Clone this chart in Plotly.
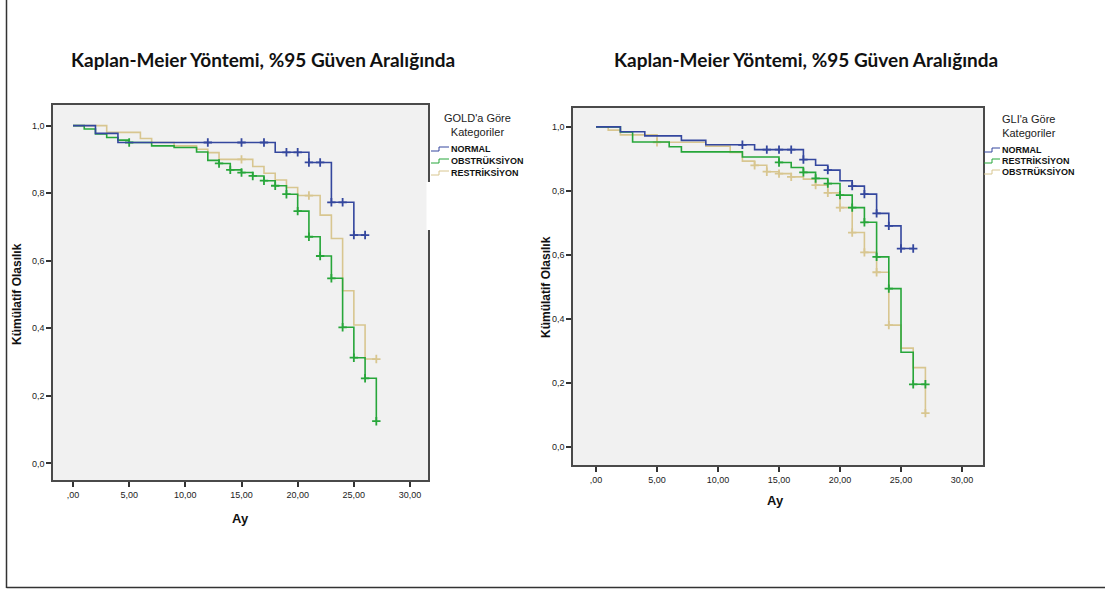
import plotly.graph_objects as go

W, H = 1105, 589

# ---------------- DATA ----------------
xtick_vals = [0, 5, 10, 15, 20, 25, 30]
xtick_text = [",00", "5,00", "10,00", "15,00", "20,00", "25,00", "30,00"]
ytick_vals = [0.0, 0.2, 0.4, 0.6, 0.8, 1.0]
ytick_text = ["0,0", "0,2", "0,4", "0,6", "0,8", "1,0"]

title_text = "Kaplan-Meier Yöntemi, %95 Güven Aralığında"
x_title = "Ay"
y_title = "Kümülatif Olasılık"

# Left panel: GOLD categories
gold_normal_t = [0, 2, 4, 18, 21, 23, 25, 26]
gold_normal_s = [1.0, 0.977, 0.95, 0.921, 0.891, 0.773, 0.676, 0.676]
gold_normal_c = [12, 15, 17, 19, 20, 21, 22, 23, 24, 25, 26]

gold_obstr_t = [0, 1, 2, 3, 4, 5, 7, 9, 11, 12, 13, 14, 15, 16, 17, 18, 19, 20, 21, 22, 23, 24, 25, 26, 27]
gold_obstr_s = [1.0, 0.99, 0.975, 0.965, 0.957, 0.95, 0.94, 0.935, 0.922, 0.897, 0.888, 0.869, 0.861, 0.851,
                0.837, 0.822, 0.797, 0.747, 0.671, 0.614, 0.548, 0.403, 0.313, 0.252, 0.125]
gold_obstr_c = [5, 13, 14, 15, 16, 17, 18, 19, 20, 21, 22, 23, 24, 25, 26, 27]

gold_restr_t = [0, 3, 6, 7, 9, 11, 12, 13, 16, 17, 18, 19, 20, 22, 23, 24, 25, 26, 27]
gold_restr_s = [1.0, 0.98, 0.962, 0.95, 0.94, 0.93, 0.92, 0.90, 0.879, 0.859, 0.839, 0.817, 0.793,
                0.735, 0.666, 0.511, 0.41, 0.309, 0.309]
gold_restr_c = [15, 21, 27]

# Right panel: GLI categories
gli_normal_t = [0, 2, 4, 7, 9, 13, 17, 18, 19, 20, 21, 22, 23, 24, 25, 26]
gli_normal_s = [1.0, 0.985, 0.972, 0.958, 0.944, 0.929, 0.898, 0.88, 0.865, 0.832, 0.815, 0.79,
                0.73, 0.691, 0.62, 0.62]
gli_normal_c = [12, 14, 15, 16, 17, 19, 21, 22, 23, 24, 25, 26]

gli_restr_t = [0, 2, 3, 6, 7, 12, 15, 16, 17, 18, 19, 20, 21, 22, 23, 24, 25, 26, 27]
gli_restr_s = [1.0, 0.984, 0.953, 0.938, 0.922, 0.906, 0.889, 0.873, 0.858, 0.839, 0.823, 0.787,
               0.748, 0.702, 0.594, 0.495, 0.296, 0.196, 0.196]
gli_restr_c = [15, 17, 18, 19, 20, 21, 22, 23, 24, 26, 27]

gli_obstr_t = [0, 1, 2, 5, 9, 11, 12, 13, 14, 15, 16, 17, 18, 19, 20, 21, 22, 23, 24, 25, 26, 27]
gli_obstr_s = [1.0, 0.99, 0.975, 0.952, 0.94, 0.92, 0.893, 0.88, 0.86, 0.854, 0.844, 0.837, 0.818,
               0.794, 0.748, 0.67, 0.608, 0.546, 0.381, 0.309, 0.248, 0.106]
gli_obstr_c = [5, 13, 14, 15, 16, 18, 19, 20, 21, 22, 23, 24, 27]

gold_legend_title = "GOLD'a Göre<br>Kategoriler"
gold_legend_names = ["NORMAL", "OBSTRÜKSİYON", "RESTRİKSİYON"]
gli_legend_title = "GLI'a Göre<br>Kategoriler"
gli_legend_names = ["NORMAL", "RESTRİKSİYON", "OBSTRÜKSİYON"]

# ---------------- STYLE ----------------
BLUE = "#34479e"
GREEN = "#27a63a"
BEIGE = "#d8c690"
TICKFONT = dict(family="Liberation Sans Narrow, Liberation Sans, Arial", size=9, color="#222")


def px(x):
    return x / W


def py(y):
    return 1 - y / H


def step_at(ts, ss, t):
    v = ss[0]
    for ti, si in zip(ts, ss):
        if ti <= t:
            v = si
    return v


fig = go.Figure()


def add_series(ts, ss, cs, color, xa, ya, name):
    fig.add_trace(go.Scatter(x=ts, y=ss, mode="lines", line=dict(color=color, width=1.6, shape="hv"),
                             xaxis=xa, yaxis=ya, name=name, showlegend=False, hoverinfo="skip"))
    fig.add_trace(go.Scatter(x=cs, y=[step_at(ts, ss, c) for c in cs], mode="markers",
                             marker=dict(symbol="cross-thin", size=6, line=dict(color=color, width=1.8)),
                             xaxis=xa, yaxis=ya, name=name + " sansürlü", showlegend=False, hoverinfo="skip"))


# left panel: beige first, then green, then blue on top
add_series(gold_restr_t, gold_restr_s, gold_restr_c, BEIGE, "x", "y", "RESTRİKSİYON")
add_series(gold_obstr_t, gold_obstr_s, gold_obstr_c, GREEN, "x", "y", "OBSTRÜKSİYON")
add_series(gold_normal_t, gold_normal_s, gold_normal_c, BLUE, "x", "y", "NORMAL")

add_series(gli_obstr_t, gli_obstr_s, gli_obstr_c, BEIGE, "x2", "y2", "OBSTRÜKSİYON")
add_series(gli_restr_t, gli_restr_s, gli_restr_c, GREEN, "x2", "y2", "RESTRİKSİYON")
add_series(gli_normal_t, gli_normal_s, gli_normal_c, BLUE, "x2", "y2", "NORMAL")

axis_common = dict(showgrid=False, zeroline=False, showline=True, mirror=True, linecolor="#4a4a4a",
                   linewidth=1.5, ticks="outside", ticklen=5, tickwidth=1.5, tickcolor="#333",
                   tickfont=TICKFONT)

# Panel geometry (pixels)
L_left, L_right, L_top, L_bot = 53, 428, 105, 480
R_left, R_right, R_top, R_bot = 573, 983, 108, 465

fig.update_layout(
    width=W, height=H, autosize=False,
    margin=dict(l=0, r=0, t=0, b=0),
    paper_bgcolor="white", plot_bgcolor="#f1f1f1",
    showlegend=False,
    xaxis=dict(domain=[px(L_left), px(L_right)], range=[-1.78, 31.6], tickvals=xtick_vals,
               ticktext=xtick_text, anchor="y", **axis_common),
    yaxis=dict(domain=[py(L_bot), py(L_top)], range=[-0.049, 1.061], tickvals=ytick_vals,
               ticktext=ytick_text, anchor="x", **axis_common),
    xaxis2=dict(domain=[px(R_left), px(R_right)], range=[-1.885, 31.72], tickvals=xtick_vals,
                ticktext=xtick_text, anchor="y2", **axis_common),
    yaxis2=dict(domain=[py(R_bot), py(R_top)], range=[-0.056, 1.059], tickvals=ytick_vals,
                ticktext=ytick_text, anchor="x2", **axis_common),
)

ann = []
TITLEFONT = dict(family="Lato, Open Sans, sans-serif", size=19, color="#111")
ann.append(dict(x=px(263), y=py(60), xref="paper", yref="paper", text="<b>" + title_text + "</b>",
                showarrow=False, font=TITLEFONT, xanchor="center", yanchor="middle"))
ann.append(dict(x=px(806), y=py(60), xref="paper", yref="paper", text="<b>" + title_text + "</b>",
                showarrow=False, font=TITLEFONT, xanchor="center", yanchor="middle"))

AXT = dict(family="Liberation Sans Narrow, Liberation Sans, Arial", size=12, color="#111")
ann.append(dict(x=px(17), y=py(294), xref="paper", yref="paper", text="<b>" + y_title + "</b>",
                showarrow=False, font=AXT, textangle=-90, xanchor="center", yanchor="middle"))
ann.append(dict(x=px(546), y=py(287), xref="paper", yref="paper", text="<b>" + y_title + "</b>",
                showarrow=False, font=AXT, textangle=-90, xanchor="center", yanchor="middle"))
ann.append(dict(x=px(240), y=py(518), xref="paper", yref="paper", text="<b>" + x_title + "</b>",
                showarrow=False, font=dict(AXT, size=13), xanchor="center", yanchor="middle"))
ann.append(dict(x=px(776), y=py(500), xref="paper", yref="paper", text="<b>" + x_title + "</b>",
                showarrow=False, font=dict(AXT, size=13), xanchor="center", yanchor="middle"))

LEGT = dict(family="Liberation Sans, Arial", size=11, color="#222")
LEGI = dict(family="Liberation Sans Narrow, Liberation Sans, Arial", size=9, color="#111")

shapes = []


def legend(title, names, colors, title_cx, title_y, sym_x, text_x, ys):
    ann.append(dict(x=px(title_cx), y=py(title_y), xref="paper", yref="paper", text=title,
                    showarrow=False, font=LEGT, xanchor="center", yanchor="middle", align="center"))
    for nm, col, yy in zip(names, colors, ys):
        ann.append(dict(x=px(text_x), y=py(yy), xref="paper", yref="paper", text="<b>" + nm + "</b>",
                        showarrow=False, font=LEGI, xanchor="left", yanchor="middle"))
        x0 = sym_x
        path = "M {} {} L {} {} L {} {} L {} {}".format(
            px(x0), py(yy + 2), px(x0 + 8), py(yy + 2), px(x0 + 8), py(yy - 2), px(text_x), py(yy - 2))
        shapes.append(dict(type="path", path=path, xref="paper", yref="paper",
                           line=dict(color=col, width=1)))


legend(gold_legend_title, gold_legend_names, [BLUE, GREEN, BEIGE], 477, 125, 431, 449, [149, 161, 173])
legend(gli_legend_title, gli_legend_names, [BLUE, GREEN, BEIGE], 1029, 126, 984, 1000, [150, 161, 172])

# white patch that hides part of the left panel's right border in the original
shapes.append(dict(type="rect", xref="paper", yref="paper", x0=px(426.5), x1=px(440), y0=py(230), y1=py(182),
                   fillcolor="white", line=dict(width=0), layer="above"))
# outer frame lines (left and bottom)
shapes.append(dict(type="line", xref="paper", yref="paper", x0=px(6.5), x1=px(6.5), y0=py(588), y1=1,
                   line=dict(color="#333", width=1.5)))
shapes.append(dict(type="line", xref="paper", yref="paper", x0=px(6.5), x1=1, y0=py(587.5), y1=py(587.5),
                   line=dict(color="#333", width=1.5)))

fig.update_layout(annotations=ann, shapes=shapes)
fig.write_html("out.html", config={"displayModeBar": False},
               post_script="document.body.style.margin='0';document.body.style.overflow='hidden';")
